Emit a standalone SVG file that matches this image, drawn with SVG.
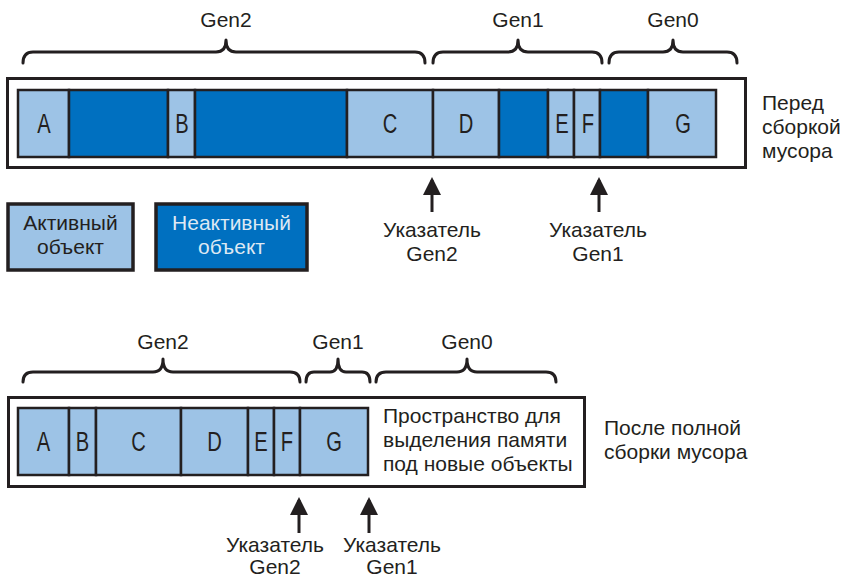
<svg xmlns="http://www.w3.org/2000/svg" width="845" height="579" viewBox="0 0 845 579">
<style>
.bg{fill:#ffffff}
.outer{fill:#ffffff;stroke:#231f20;stroke-width:3}
.live{fill:#9dc3e6;stroke:#231f20;stroke-width:2.5}
.dead{fill:#0070c0;stroke:#231f20;stroke-width:2.5}
.brace{fill:none;stroke:#231f20;stroke-width:3;stroke-linecap:round;stroke-linejoin:round}
.lbl{font-family:"Liberation Sans",Arial,sans-serif;font-size:21px;fill:#231f20}
.mid{text-anchor:middle}
.cell{font-family:"Liberation Sans",Arial,sans-serif;font-size:28px;fill:#231f20;text-anchor:middle}
.shaft{stroke:#231f20;stroke-width:3}
.leg{stroke:#231f20;stroke-width:3.5}
</style>
<defs>
<marker id="ah" markerWidth="6" markerHeight="6" refX="5" refY="3" orient="auto" markerUnits="strokeWidth">
<path d="M0,0 L6,3 L0,6 Z" fill="#231f20"/>
</marker>
</defs>
<rect class="bg" x="0" y="0" width="845" height="579"/>

<!-- Top: before collection -->
<g id="before">
<rect class="outer" x="7.5" y="78.5" width="738" height="89"/>
<rect class="live" x="18" y="90" width="51" height="67"/>
<rect class="dead" x="69" y="90" width="99" height="67"/>
<rect class="live" x="168" y="90" width="27" height="67"/>
<rect class="dead" x="195" y="90" width="152" height="67"/>
<rect class="live" x="347" y="90" width="86" height="67"/>
<rect class="live" x="433" y="90" width="66" height="67"/>
<rect class="dead" x="499" y="90" width="49" height="67"/>
<rect class="live" x="548" y="90" width="26" height="67"/>
<rect class="live" x="574" y="90" width="26" height="67"/>
<rect class="dead" x="600" y="90" width="48" height="67"/>
<rect class="live" x="648" y="90" width="68" height="67"/>
<text class="cell" transform="translate(44,133) scale(0.72,1)">A</text>
<text class="cell" transform="translate(182,133) scale(0.72,1)">B</text>
<text class="cell" transform="translate(390,133) scale(0.72,1)">C</text>
<text class="cell" transform="translate(466,133) scale(0.72,1)">D</text>
<text class="cell" transform="translate(562,133) scale(0.72,1)">E</text>
<text class="cell" transform="translate(588,133) scale(0.72,1)">F</text>
<text class="cell" transform="translate(683,133) scale(0.72,1)">G</text>
<text class="lbl" x="762" y="110">Перед</text>
<text class="lbl" x="762" y="134">сборкой</text>
<text class="lbl" x="762" y="158">мусора</text>
</g>

<g id="braces-top">
<path class="brace" d="M23,63 Q23,52 33,52 L216,52 Q226,52 226,40 Q226,52 236,52 L415,52 Q425,52 425,63"/>
<text class="lbl mid" x="226" y="27">Gen2</text>
<path class="brace" d="M433,63 Q433,52 443,52 L508,52 Q518,52 518,40 Q518,52 528,52 L592,52 Q602,52 602,63"/>
<text class="lbl mid" x="518" y="27">Gen1</text>
<path class="brace" d="M609,63 Q609,52 619,52 L663,52 Q673,52 673,40 Q673,52 683,52 L727,52 Q737,52 737,63"/>
<text class="lbl mid" x="673" y="27">Gen0</text>
</g>

<g id="legend-live">
<rect class="live leg" x="8" y="204" width="125" height="66"/>
<text class="lbl mid" x="70.5" y="230">Активный</text>
<text class="lbl mid" x="70.5" y="254">объект</text>
</g>
<g id="legend-dead">
<rect class="dead leg" x="156" y="204" width="151" height="66"/>
<text class="lbl mid" x="231.5" y="230" style="fill:#dde8f3">Неактивный</text>
<text class="lbl mid" x="231.5" y="254" style="fill:#dde8f3">объект</text>
</g>

<g id="ptr-top-gen2">
<text class="lbl mid" x="432" y="237">Указатель</text>
<text class="lbl mid" x="432" y="261">Gen2</text>
</g>
<g id="ptr-top-gen1">
<text class="lbl mid" x="598" y="237">Указатель</text>
<text class="lbl mid" x="598" y="261">Gen1</text>
</g>

<!-- Bottom: after full collection -->
<g id="after">
<rect class="outer" x="8.5" y="397.5" width="576" height="89"/>
<rect class="live" x="18" y="408" width="51" height="67"/>
<rect class="live" x="69" y="408" width="27" height="67"/>
<rect class="live" x="96" y="408" width="85" height="67"/>
<rect class="live" x="181" y="408" width="67" height="67"/>
<rect class="live" x="248" y="408" width="26" height="67"/>
<rect class="live" x="274" y="408" width="26" height="67"/>
<rect class="live" x="300" y="408" width="68" height="67"/>
<text class="cell" transform="translate(43.5,451) scale(0.72,1)">A</text>
<text class="cell" transform="translate(82.5,451) scale(0.72,1)">B</text>
<text class="cell" transform="translate(138.5,451) scale(0.72,1)">C</text>
<text class="cell" transform="translate(214.5,451) scale(0.72,1)">D</text>
<text class="cell" transform="translate(261,451) scale(0.72,1)">E</text>
<text class="cell" transform="translate(287,451) scale(0.72,1)">F</text>
<text class="cell" transform="translate(334,451) scale(0.72,1)">G</text>
<text class="lbl" x="383" y="423">Пространство для</text>
<text class="lbl" x="383" y="447">выделения памяти</text>
<text class="lbl" x="383" y="471">под новые объекты</text>
<text class="lbl" x="604" y="435">После полной</text>
<text class="lbl" x="604" y="459">сборки мусора</text>
</g>

<g id="braces-bottom">
<path class="brace" d="M23,382 Q23,372 33,372 L153,372 Q163,372 163,359 Q163,372 173,372 L290,372 Q300,372 300,382"/>
<text class="lbl mid" x="163" y="349">Gen2</text>
<path class="brace" d="M306,382 Q306,372 314,372 L330,372 Q338,372 338,359 Q338,372 346,372 L362,372 Q370,372 370,382"/>
<text class="lbl mid" x="338" y="349">Gen1</text>
<path class="brace" d="M376,382 Q376,372 386,372 L457,372 Q467,372 467,359 Q467,372 477,372 L546,372 Q556,372 556,382"/>
<text class="lbl mid" x="467" y="349">Gen0</text>
</g>

<g id="ptr-bottom-gen2">
<text class="lbl mid" x="275" y="552">Указатель</text>
<text class="lbl mid" x="275" y="574">Gen2</text>
</g>
<g id="ptr-bottom-gen1">
<text class="lbl mid" x="392" y="552">Указатель</text>
<text class="lbl mid" x="392" y="574">Gen1</text>
</g>

<g id="connectors">
<line class="shaft" x1="432" y1="212" x2="432" y2="180" marker-end="url(#ah)"/>
<line class="shaft" x1="599" y1="212" x2="599" y2="180" marker-end="url(#ah)"/>
<line class="shaft" x1="299" y1="533" x2="299" y2="500" marker-end="url(#ah)"/>
<line class="shaft" x1="369" y1="533" x2="369" y2="500" marker-end="url(#ah)"/>
</g>
</svg>
